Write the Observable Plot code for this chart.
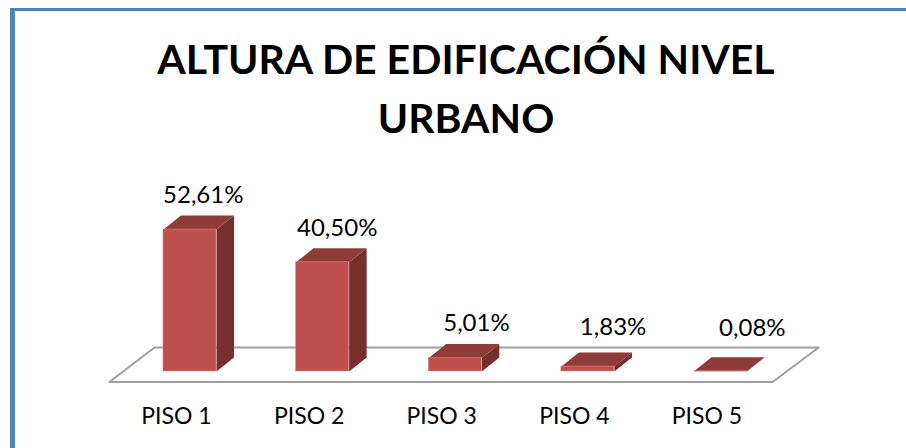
<!DOCTYPE html>
<html>
<head>
<meta charset="utf-8">
<script src="https://cdn.jsdelivr.net/npm/d3@7"></script>
<script src="https://cdn.jsdelivr.net/npm/@observablehq/plot@0.6"></script>
<style>
  html, body { margin: 0; padding: 0; background: #fff; width: 906px; height: 448px; overflow: hidden; }
  #frame { position: absolute; left: 10px; top: 8px; width: 896px; height: 440px; box-sizing: border-box;
           border-left: 5px solid #4f81bd; border-top: 3px solid #4f81bd; }
  #title { position: absolute; left: 0; top: 29px; width: 906px; padding-left: 26px; box-sizing: border-box; text-align: center;
           font: bold 41px/59px Lato, sans-serif; color: #000; }
  #chart { position: absolute; left: 0; top: 150px; }
  svg { background: transparent !important; }
</style>
</head>
<body>
<div id="frame"></div>
<div id="title">ALTURA DE EDIFICACIÓN NIVEL<br>URBANO</div>
<div id="chart"></div>
<script>
const categories = ["PISO 1", "PISO 2", "PISO 3", "PISO 4", "PISO 5"];
const values = [52.61, 40.50, 5.01, 1.83, 0.08];
const valueLabels = ["52,61%", "40,50%", "5,01%", "1,83%", "0,08%"];
// hand-placed data labels of the original, in scale units
const labelShiftX = [0.10, 0.11, 0.16, 0.19, 0.24];
const labelShiftY = [12.6, 12.4, 12.8, 14.5, 15.9];
// pseudo-3D geometry, in scale units
const halfBar = 0.2, depthX = 0.132, depthY = 5.19;
const floorCorners = [[-0.607, -3.9], [4.393, -3.9], [4.74, 8.9], [-0.268, 8.9], [-0.607, -3.9]];

const bars = values.map((v, i) => ({ i, v, x1: i - halfBar, x2: i + halfBar, label: valueLabels[i] }));
const sideFaces = bars.flatMap(b => [
  [b.x2, 0], [b.x2 + depthX, depthY], [b.x2 + depthX, b.v + depthY], [b.x2, b.v], [b.x2, 0]
].map(([x, y]) => ({ id: b.i, x, y })));
const topFaces = bars.flatMap(b => [
  [b.x1, b.v], [b.x2, b.v], [b.x2 + depthX, b.v + depthY], [b.x1 + depthX, b.v + depthY], [b.x1, b.v]
].map(([x, y]) => ({ id: b.i, x, y })));

const chart = Plot.plot({
  width: 906, height: 298,
  marginLeft: 0, marginRight: 0, marginTop: 0, marginBottom: 45,
  x: { domain: [0, 4], range: [189.5, 720] },
  y: { domain: [0, 52.61], range: [221, 79], axis: null },
  style: { background: "transparent", overflow: "visible" },
  marks: [
    Plot.line(floorCorners, { x: d => d[0], y: d => d[1], fill: "#fff", stroke: "#a0a0a0", strokeWidth: 2 }),
    Plot.line(sideFaces, { x: "x", y: "y", z: "id", fill: "#772f2d", stroke: "none" }),
    Plot.line(topFaces, { x: "x", y: "y", z: "id", fill: "#8f3b39", stroke: "none" }),
    Plot.rect(bars, { x1: "x1", x2: "x2", y1: 0, y2: "v", fill: "#c0504d", stroke: "#d98b88", strokeWidth: 0.5 }),
    Plot.text(bars, {
      x: (b) => b.i + labelShiftX[b.i], y: (b) => b.v + labelShiftY[b.i], text: "label",
      fontFamily: "Lato, sans-serif", fontSize: 24, fill: "#000"
    }),
    Plot.axisX({
      ticks: [0, 1, 2, 3, 4], tickFormat: (i) => categories[i], tickSize: 0, tickPadding: 4,
      label: null, dx: -13.5, fontFamily: "Lato, sans-serif", fontSize: 23, color: "#000"
    })
  ]
});
document.getElementById("chart").appendChild(chart);
</script>
</body>
</html>
